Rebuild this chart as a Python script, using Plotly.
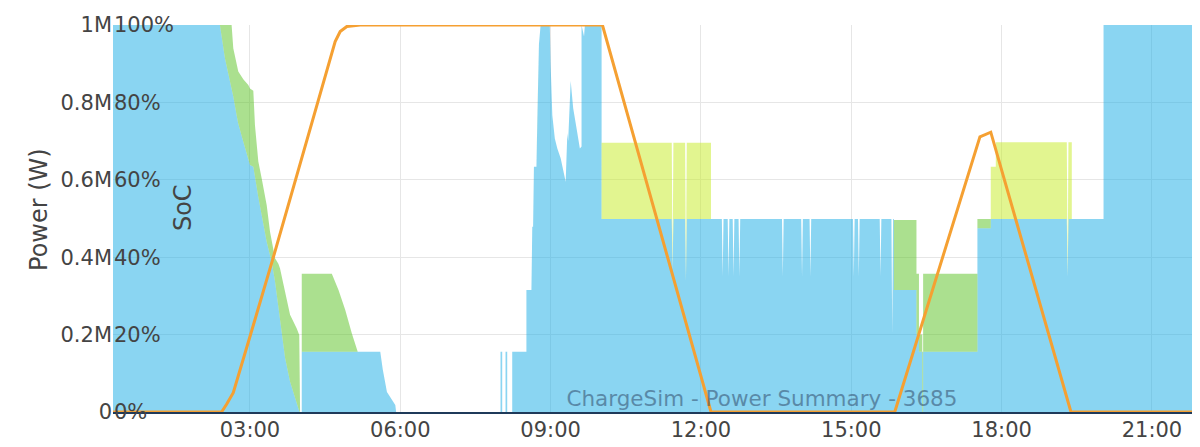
import numpy as np
import plotly.graph_objects as go

DAY = "2024-01-01 "

# ---- Power data (MW) on a shared time axis ----
times = [
    "00:16", "02:24", "02:30", "02:38", "02:40", "02:44", "02:46", "02:52", "02:58", "03:00",
    "03:04", "03:06", "03:08", "03:10", "03:14", "03:20", "03:24", "03:26", "03:30", "03:34",
    "03:36", "03:40", "03:42", "03:48", "03:56", "03:58", "03:59", "04:00", "04:02",
    "04:02", "04:38", "04:46", "04:54", "05:02", "05:08", "05:09", "05:36", "05:39", "05:44",
    "05:54", "05:55",
    "08:00", "08:00", "08:02", "08:02", "08:06", "08:06", "08:08", "08:08", "08:14", "08:14",
    "08:31", "08:31", "08:37", "08:38", "08:39", "08:40", "08:43", "08:44", "08:46", "08:48",
    "08:59", "09:00", "09:02", "09:05", "09:08", "09:12", "09:16", "09:18", "09:20", "09:21",
    "09:24", "09:27", "09:31", "09:35", "09:37", "09:37", "09:40", "09:41", "10:01",
    "10:01", "11:25", "11:26", "11:27", "11:41", "11:42", "11:43", "12:12", "12:12",
    "12:25", "12:26", "12:27", "12:32", "12:33", "12:34", "12:38", "12:39", "12:40",
    "12:45", "12:46", "12:47", "13:37", "13:38", "13:39", "14:00", "14:01", "14:02",
    "14:10", "14:11", "14:12", "15:02", "15:03", "15:04", "15:08", "15:09", "15:10",
    "15:34", "15:35", "15:36", "15:48", "15:49", "15:50",
    "15:51", "15:51", "16:18", "16:18", "16:21", "16:21", "16:25", "16:25", "16:26", "16:26",
    "17:31", "17:31", "17:47", "17:47", "17:53", "17:53", "19:18", "19:19", "19:20", "19:24",
    "19:24", "20:02", "20:02", "22:10",
]
grid_mw = [
    1.000, 1.000, 0.914, 0.836, 0.815, 0.767, 0.745, 0.698, 0.650, 0.638,
    0.634, 0.606, 0.578, 0.555, 0.509, 0.440, 0.405, 0.388, 0.337, 0.268,
    0.235, 0.165, 0.140, 0.078, 0.020, 0.005, 0.002, 0.000, 0.000,
    0.156, 0.156, 0.156, 0.156, 0.156, 0.156, 0.156, 0.156, 0.110, 0.052,
    0.018, 0.000,
    0.000, 0.156, 0.156, 0.000, 0.000, 0.156, 0.156, 0.000, 0.000, 0.156,
    0.156, 0.315, 0.315, 0.479, 0.479, 0.634, 0.634, 0.750, 0.950, 1.000,
    1.000, 0.897, 0.767, 0.707, 0.681, 0.656, 0.612, 0.595, 0.720, 0.700,
    0.855, 0.785, 0.733, 0.681, 0.686, 1.000, 0.970, 1.000, 1.000,
    0.499, 0.499, 0.367, 0.499, 0.499, 0.340, 0.499, 0.499, 0.499,
    0.499, 0.350, 0.499, 0.499, 0.350, 0.499, 0.499, 0.350, 0.499,
    0.499, 0.350, 0.499, 0.499, 0.350, 0.499, 0.499, 0.350, 0.499,
    0.499, 0.350, 0.499, 0.499, 0.350, 0.499, 0.499, 0.350, 0.499,
    0.499, 0.350, 0.499, 0.499, 0.200, 0.499,
    0.499, 0.315, 0.315, 0.200, 0.200, 0.156, 0.156, 0.000, 0.000, 0.156,
    0.156, 0.475, 0.475, 0.499, 0.499, 0.499, 0.499, 0.350, 0.499, 0.499,
    0.499, 0.499, 1.000, 1.000,
]
battery_mw = [
    0.000, 0.000, 0.086, 0.164, 0.125, 0.138, 0.135, 0.162, 0.195, 0.198,
    0.196, 0.134, 0.122, 0.092, 0.095, 0.095, 0.061, 0.052, 0.060, 0.115,
    0.136, 0.166, 0.171, 0.173, 0.196, 0.200, 0.197, 0.000, 0.000,
    0.201, 0.201, 0.159, 0.108, 0.047, 0.009, 0.000, 0.000, 0.000, 0.000,
    0.000, 0.000,
    0, 0, 0, 0, 0, 0, 0, 0, 0, 0,
    0, 0, 0, 0, 0, 0, 0, 0, 0, 0,
    0, 0, 0, 0, 0, 0, 0, 0, 0, 0,
    0, 0, 0, 0, 0, 0, 0, 0, 0,
    0, 0, 0, 0, 0, 0, 0, 0, 0,
    0, 0, 0, 0, 0, 0, 0, 0, 0,
    0, 0, 0, 0, 0, 0, 0, 0, 0,
    0, 0, 0, 0, 0, 0, 0, 0, 0,
    0, 0, 0, 0, 0, 0,
    0.000, 0.181, 0.181, 0.157, 0.157, 0.044, 0.044, 0.156, 0.156, 0.201,
    0.201, 0.024, 0.024, 0.000, 0.000, 0.000, 0.000, 0.000, 0.000, 0.000,
    0.000, 0.000, 0.000, 0.000,
]
solar_mw = [
    0, 0, 0, 0, 0, 0, 0, 0, 0, 0,
    0, 0, 0, 0, 0, 0, 0, 0, 0, 0,
    0, 0, 0, 0, 0, 0, 0, 0, 0,
    0, 0, 0, 0, 0, 0, 0, 0, 0, 0,
    0, 0,
    0, 0, 0, 0, 0, 0, 0, 0, 0, 0,
    0, 0, 0, 0, 0, 0, 0, 0, 0, 0,
    0, 0, 0, 0, 0, 0, 0, 0, 0, 0,
    0, 0, 0, 0, 0, 0, 0, 0, 0,
    0.197, 0.197, 0.000, 0.197, 0.197, 0.000, 0.197, 0.197, 0.000,
    0, 0, 0, 0, 0, 0, 0, 0, 0,
    0, 0, 0, 0, 0, 0, 0, 0, 0,
    0, 0, 0, 0, 0, 0, 0, 0, 0,
    0, 0, 0, 0, 0, 0,
    0.000, 0.000, 0.000, 0.000, 0.000, 0.000, 0.000, 0.000, 0.000, 0.000,
    0.000, 0.000, 0.000, 0.135, 0.135, 0.198, 0.198, 0.000, 0.198, 0.198,
    0.000, 0.000, 0.000, 0.000,
]

# ---- State of charge (%) ----
soc_times = ["00:16", "02:26", "02:32", "02:40", "03:00", "03:28", "04:42", "04:48", "04:56",
             "05:12", "10:02", "12:12", "15:52", "17:34", "17:47", "19:23", "22:10"]
soc_pct = [0, 0, 2, 5, 19.5, 40, 95.7, 98.3, 99.6,
           100, 100, 0, 0, 71.1, 72.3, 0, 0]

# ---- Axis ticks ----
power_tickvals = [0, 200000, 400000, 600000, 800000, 1000000]
power_ticktext = ["0", "0.2M", "0.4M", "0.6M", "0.8M", "1M"]
soc_tickvals = [0, 20, 40, 60, 80, 100]
soc_ticktext = ["0%", "20%", "40%", "60%", "80%", "100%"]

assert len(times) == len(grid_mw) == len(battery_mw) == len(solar_mw), (
    len(times), len(grid_mw), len(battery_mw), len(solar_mw))

x = [DAY + t for t in times]
grid_w = np.array(grid_mw) * 1e6
grid_batt_w = grid_w + np.array(battery_mw) * 1e6
total_w = grid_batt_w + np.array(solar_mw) * 1e6

fig = go.Figure()
fig.add_trace(go.Scatter(x=x, y=grid_w, mode="lines", line=dict(width=0),
                         fill="tozeroy", fillcolor="rgba(21,171,229,0.5)", name="Grid"))
fig.add_trace(go.Scatter(x=x, y=grid_batt_w, mode="lines", line=dict(width=0),
                         fill="tonexty", fillcolor="rgba(87,193,31,0.5)", name="Battery"))
fig.add_trace(go.Scatter(x=x, y=total_w, mode="lines", line=dict(width=0),
                         fill="tonexty", fillcolor="rgba(197,235,33,0.5)", name="Solar"))
fig.add_trace(go.Scatter(x=[DAY + t for t in soc_times], y=soc_pct, yaxis="y2", mode="lines",
                         line=dict(color="#f5a032", width=3), name="SoC"))

FONT = "DejaVu Sans, Verdana, sans-serif"
fig.update_layout(
    width=1192, height=439,
    margin=dict(l=105, r=0, t=17, b=35, autoexpand=False),
    paper_bgcolor="white", plot_bgcolor="white",
    showlegend=False,
    font=dict(family=FONT, color="#444444", size=21),
    title=dict(text="ChargeSim - Power Summary - 3685",
               font=dict(family=FONT, size=21.5, color="rgba(42,63,95,0.5)"),
               xref="paper", x=0.597, xanchor="center",
               yref="paper", y=0.035, yanchor="middle"),
    xaxis=dict(type="date", range=[DAY + "00:16", DAY + "21:57:30"],
               tickformat="%H:%M", tick0=DAY + "00:00", dtick=3 * 3600 * 1000,
               showgrid=True, gridcolor="#e6e6e6", zeroline=False,
               showline=True, linecolor="#1f3a5a", linewidth=1.5,
               tickfont=dict(size=21), automargin=False, ticklabelstandoff=-2),
    yaxis=dict(range=[0, 1000000], tickvals=power_tickvals, ticktext=power_ticktext,
               showgrid=True, gridcolor="#e6e6e6", zeroline=False,
               tickfont=dict(size=21), automargin=False),
    yaxis2=dict(overlaying="y", anchor="free", position=0, side="right",
                range=[0, 100], tickvals=soc_tickvals, ticktext=soc_ticktext,
                showgrid=False, zeroline=False,
                tickfont=dict(size=21), automargin=False),
    annotations=[
        dict(text="Power (W)", textangle=-90, xref="paper", yref="paper",
             x=0, xshift=-74, y=0.522, xanchor="center", yanchor="middle",
             showarrow=False, font=dict(size=24, color="#444444")),
        dict(text="SoC", textangle=-90, xref="paper", yref="paper",
             x=0, xshift=70, y=0.527, xanchor="center", yanchor="middle",
             showarrow=False, font=dict(size=24, color="#444444")),
    ],
)

fig.write_html("out.html")
